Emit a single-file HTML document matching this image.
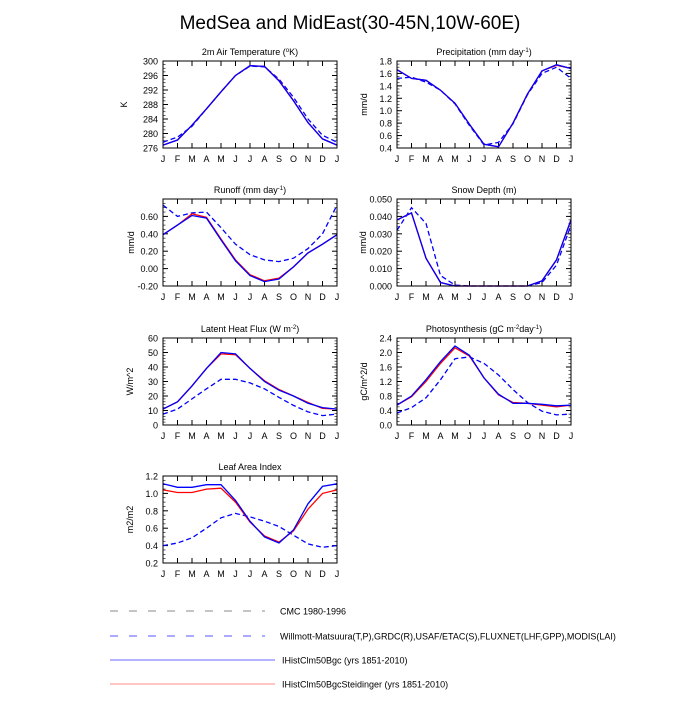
<!DOCTYPE html>
<html><head><meta charset="utf-8"><style>
body{margin:0;background:#fff;font-family:"Liberation Sans",sans-serif}
svg text{font-family:"Liberation Sans",sans-serif;fill:#000}
</style></head><body>
<svg id="c" width="700" height="700" viewBox="0 0 700 700">
<text x="350" y="29" text-anchor="middle" font-size="19">MedSea and MidEast(30-45N,10W-60E)</text>
</svg>
<script>
const months=["J","F","M","A","M","J","J","A","S","O","N","D","J"];
const tempModel=[276.8,278.2,282.3,286.8,291.5,296,298.7,298.5,294.5,289,283,278.5,276.8];
const tempRed=[276.8,278.2,282.3,286.8,291.5,296,298.7,298.5,294.6,289.1,283,278.5,276.8];
const tempObs=[277.6,279,282,286.8,291.5,296,298.6,298.4,295,290,284,279.5,277.6];
const precModel=[1.66,1.52,1.49,1.33,1.12,0.78,0.46,0.42,0.8,1.27,1.64,1.74,1.68];
const precRed=[1.66,1.52,1.49,1.33,1.12,0.78,0.46,0.42,0.8,1.27,1.64,1.73,1.68];
const precObs=[1.52,1.54,1.46,1.33,1.11,0.76,0.45,0.49,0.79,1.26,1.6,1.7,1.52];
const runModel=[0.39,0.5,0.61,0.58,0.33,0.09,-0.08,-0.15,-0.12,0.02,0.18,0.28,0.39];
const runRed=[0.39,0.5,0.63,0.59,0.34,0.1,-0.07,-0.14,-0.11,0.02,0.18,0.28,0.39];
const runObs=[0.73,0.6,0.64,0.65,0.47,0.28,0.16,0.10,0.08,0.12,0.23,0.40,0.73];
const snowModel=[0.038,0.042,0.016,0.002,0,0,0,0,0,0,0.003,0.015,0.038];
const snowRed=[0.038,0.042,0.016,0.002,0,0,0,0,0,0,0.003,0.015,0.038];
const snowObs=[0.032,0.045,0.036,0.006,0.0005,0,0,0,0,0,0.002,0.012,0.035];
const lhModel=[11,16,27,39,50,49,39,30,24,20,15,12,11];
const lhRed=[11,16,27,39,49,48.5,39,30.5,24.5,20,15.5,11.5,11];
const lhObs=[7.5,11,18,25,31.5,31.5,29,25,19,13.5,9,6.5,7.5];
const gppModel=[0.55,0.8,1.25,1.75,2.18,1.92,1.3,0.85,0.6,0.6,0.57,0.53,0.55];
const gppRed=[0.55,0.78,1.2,1.7,2.13,1.9,1.3,0.83,0.62,0.6,0.55,0.5,0.55];
const gppObs=[0.33,0.48,0.75,1.25,1.83,1.88,1.7,1.38,0.98,0.62,0.38,0.28,0.3];
const laiModel=[1.11,1.07,1.07,1.1,1.1,0.92,0.68,0.5,0.43,0.58,0.88,1.08,1.11];
const laiRed=[1.04,1.01,1.01,1.05,1.06,0.9,0.67,0.51,0.44,0.57,0.82,1.0,1.04];
const laiObs=[0.4,0.43,0.49,0.6,0.72,0.77,0.73,0.68,0.62,0.52,0.42,0.38,0.4];

const NS="http://www.w3.org/2000/svg";
const svg=document.getElementById("c");
function mk(tag,attrs,parent){const e=document.createElementNS(NS,tag);for(const k in attrs)e.setAttribute(k,attrs[k]);(parent||svg).appendChild(e);return e;}

const panels=[
 {id:"temperature",title:'2m Air Temperature (<tspan baseline-shift="super" font-size="6">o</tspan>K)',yl:"K",yo:36,x0:163,y0:61,min:276,max:300,ticks:[276,280,284,288,292,296,300],fmt:0,minor:1,s:[tempObs,tempRed,tempModel]},
 {id:"precipitation",title:'Precipitation (mm day<tspan baseline-shift="super" font-size="6">-1</tspan>)',yl:"mm/d",yo:30,x0:397,y0:61,min:0.4,max:1.8,ticks:[0.4,0.6,0.8,1.0,1.2,1.4,1.6,1.8],fmt:1,minor:0.05,s:[precObs,precRed,precModel]},
 {id:"runoff",title:'Runoff (mm day<tspan baseline-shift="super" font-size="6">-1</tspan>)',yl:"mm/d",yo:29,x0:163,y0:199,min:-0.2,max:0.8,ticks:[-0.2,0,0.2,0.4,0.6],fmt:2,minor:0.05,s:[runObs,runRed,runModel]},
 {id:"snow-depth",title:'Snow Depth (m)',yl:"mm/d",yo:31,x0:397,y0:199,min:0,max:0.05,ticks:[0,0.01,0.02,0.03,0.04,0.05],fmt:3,minor:0.002,s:[snowObs,snowRed,snowModel]},
 {id:"latent-heat",title:'Latent Heat Flux (W m<tspan baseline-shift="super" font-size="6">-2</tspan>)',yl:"W/m^2",yo:30,x0:163,y0:338,min:0,max:60,ticks:[0,10,20,30,40,50,60],fmt:0,minor:2,s:[lhObs,lhRed,lhModel]},
 {id:"photosynthesis",title:'Photosynthesis (gC m<tspan baseline-shift="super" font-size="6">-2</tspan>day<tspan baseline-shift="super" font-size="6">-1</tspan>)',yl:"gC/m^2/d",yo:30,x0:397,y0:338,min:0,max:2.4,ticks:[0,0.4,0.8,1.2,1.6,2.0,2.4],fmt:1,minor:0.1,s:[gppObs,gppRed,gppModel]},
 {id:"leaf-area-index",title:'Leaf Area Index',yl:"m2/m2",yo:30,x0:163,y0:476,min:0.2,max:1.2,ticks:[0.2,0.4,0.6,0.8,1.0,1.2],fmt:1,minor:0.05,s:[laiObs,laiRed,laiModel]}
];
const W=174,H=87;
const styles=[{c:"#0000ff",d:"5,3"},{c:"#ff0000",d:""},{c:"#0000ff",d:""}];
const snames=["obs","steidinger","bgc"];
panels.forEach(p=>{
 const g=mk("g",{});
 
 
 const xs=i=>p.x0+i*W/12;
 const ys=v=>p.y0+H-(v-p.min)/(p.max-p.min)*H;
 const t=mk("text",{x:p.x0+W/2,y:p.y0-6,"text-anchor":"middle","font-size":"9"},g);
 t.innerHTML=p.title;
 
 
 const yl=mk("text",{x:0,y:0,"text-anchor":"middle","font-size":"9",transform:`translate(${p.x0-p.yo},${p.y0+H/2}) rotate(-90)`},g);
 yl.textContent=p.yl;
 
 
 for(let i=0;i<13;i++){
  const x=xs(i);
  mk("line",{x1:x,x2:x,y1:p.y0+H,y2:p.y0+H-5,stroke:"#000","stroke-width":"1"},g);
  mk("line",{x1:x,x2:x,y1:p.y0,y2:p.y0+5,stroke:"#000","stroke-width":"1"},g);
  const lt=mk("text",{x:x,y:p.y0+H+14,"text-anchor":"middle","font-size":"9"},g);
  lt.textContent=months[i];
  
  
 }
 const nm=Math.round((p.max-p.min)/p.minor);
 for(let k=0;k<=nm;k++){
  const y=ys(p.min+k*p.minor);
  mk("line",{x1:p.x0,x2:p.x0+2.5,y1:y,y2:y,stroke:"#000","stroke-width":"0.6"},g);
  mk("line",{x1:p.x0+W,x2:p.x0+W-2.5,y1:y,y2:y,stroke:"#000","stroke-width":"0.6"},g);
 }
 p.ticks.forEach(v=>{
  const y=ys(v);
  mk("line",{x1:p.x0,x2:p.x0+5,y1:y,y2:y,stroke:"#000","stroke-width":"1"},g);
  mk("line",{x1:p.x0+W,x2:p.x0+W-5,y1:y,y2:y,stroke:"#000","stroke-width":"1"},g);
  const lt=mk("text",{x:p.x0-5,y:y+3.5,"text-anchor":"end","font-size":"9"},g);
  lt.textContent=v.toFixed(p.fmt);
  
  
 });
 p.s.forEach((arr,si)=>{
  const pts=arr.map((v,i)=>xs(i).toFixed(1)+","+ys(v).toFixed(1)).join(" ");
  const pl=mk("polyline",{points:pts,fill:"none",stroke:styles[si].c,"stroke-width":"1.3","stroke-dasharray":styles[si].d},g);
  
  
 });
 const fr=mk("rect",{x:p.x0,y:p.y0,width:W,height:H,fill:"none",stroke:"#000","stroke-width":"1"},g);
 
 
});
const leg=[
 {t:"CMC 1980-1996",c:"#888888",d:"8,11",x2:265,tx:280,y:611},
 {t:"Willmott-Matsuura(T,P),GRDC(R),USAF/ETAC(S),FLUXNET(LHF,GPP),MODIS(LAI)",c:"#5555ff",d:"8,11",x2:265,tx:280,y:636},
 {t:"IHistClm50Bgc (yrs 1851-2010)",c:"#6666ff",d:"",x2:275,tx:282,y:660},
 {t:"IHistClm50BgcSteidinger (yrs 1851-2010)",c:"#ff8888",d:"",x2:275,tx:282,y:684}
];
leg.forEach((l,i)=>{
 const g=mk("g",{});
 
 
 mk("line",{x1:110,x2:l.x2,y1:l.y,y2:l.y,stroke:l.c,"stroke-width":"1","stroke-dasharray":l.d},g);
 const t=mk("text",{x:l.tx,y:l.y+3.5,"font-size":"9"},g);
 t.textContent=l.t;
});
</script>
</body></html>
